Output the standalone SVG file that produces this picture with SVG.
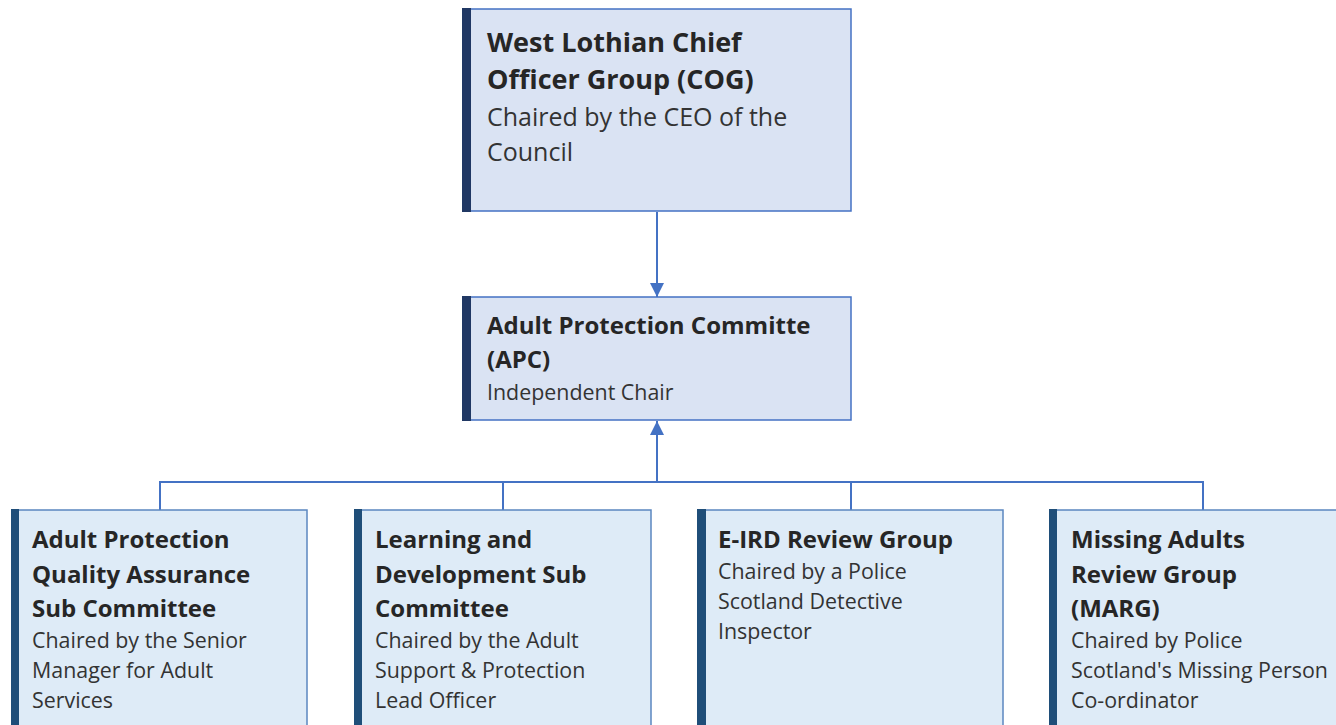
<svg xmlns="http://www.w3.org/2000/svg" width="1336" height="725" viewBox="0 0 1336 725">
<defs>
<marker id="ah" viewBox="0 0 14 14" refX="14" refY="7" markerWidth="14" markerHeight="14" markerUnits="userSpaceOnUse" orient="auto">
<path d="M0,0 L14,7 L0,14 Z" fill="#4472c4"/>
</marker>
<style>
.top{fill:#dae3f3;stroke:#4472c4;stroke-width:1.5}
.low{fill:#deebf7;stroke:#5b87c0;stroke-width:1.5}
.bart{fill:#203864}
.barl{fill:#1f4e79}
.t{font-family:"Open Sans","DejaVu Sans",sans-serif;font-weight:bold;font-size:24px;fill:#262626}
.tb{font-family:"Open Sans","DejaVu Sans",sans-serif;font-weight:bold;font-size:27px;fill:#262626}
.sb{font-family:"Open Sans","DejaVu Sans",sans-serif;font-size:25px;fill:#333333}
.s2{font-family:"Open Sans","DejaVu Sans",sans-serif;font-size:21.4px;fill:#333333}
.c{fill:none;stroke:#4472c4;stroke-width:2}
</style>
</defs>
<rect width="1336" height="725" fill="#ffffff"/>
<g id="connectors">
<line class="c" x1="657" y1="212" x2="657" y2="297" marker-end="url(#ah)"/>
<polyline class="c" points="160,510 160,482 1203,482 1203,510"/>
<line class="c" x1="503" y1="482" x2="503" y2="510"/>
<line class="c" x1="851" y1="482" x2="851" y2="510"/>
<line class="c" x1="657" y1="482" x2="657" y2="421" stroke-width="3" marker-end="url(#ah)"/>
</g>
<g id="cog">
<rect class="top" x="463" y="9" width="388" height="202"/>
<rect class="bart" x="462" y="8" width="9" height="204"/>
<text class="tb" x="487" y="52">West Lothian Chief</text>
<text class="tb" x="487" y="89">Officer Group (COG)</text>
<text class="sb" x="487" y="126">Chaired by the CEO of the</text>
<text class="sb" x="487" y="161">Council</text>
</g>
<g id="apc">
<rect class="top" x="463" y="297" width="388" height="123"/>
<rect class="bart" x="462" y="296" width="9" height="125"/>
<text class="t" x="487" y="334">Adult Protection Committe</text>
<text class="t" x="487" y="368">(APC)</text>
<text class="s2" x="487" y="400">Independent Chair</text>
</g>
<g id="qa">
<rect class="low" x="12" y="510" width="295" height="230"/>
<rect class="barl" x="11" y="509" width="8" height="230"/>
<text class="t" x="32" y="548">Adult Protection</text>
<text class="t" x="32" y="583">Quality Assurance</text>
<text class="t" x="32" y="617">Sub Committee</text>
<text class="s2" x="32" y="648">Chaired by the Senior</text>
<text class="s2" x="32" y="678">Manager for Adult</text>
<text class="s2" x="32" y="708">Services</text>
</g>
<g id="ld">
<rect class="low" x="355" y="510" width="296" height="230"/>
<rect class="barl" x="354" y="509" width="8" height="230"/>
<text class="t" x="375" y="548">Learning and</text>
<text class="t" x="375" y="583">Development Sub</text>
<text class="t" x="375" y="617">Committee</text>
<text class="s2" x="375" y="648">Chaired by the Adult</text>
<text class="s2" x="375" y="678">Support &amp; Protection</text>
<text class="s2" x="375" y="708">Lead Officer</text>
</g>
<g id="eird">
<rect class="low" x="698" y="510" width="305" height="230"/>
<rect class="barl" x="697" y="509" width="9" height="230"/>
<text class="t" x="718" y="548">E-IRD Review Group</text>
<text class="s2" x="718" y="579">Chaired by a Police</text>
<text class="s2" x="718" y="609">Scotland Detective</text>
<text class="s2" x="718" y="639">Inspector</text>
</g>
<g id="marg">
<rect class="low" x="1050" y="510" width="300" height="230"/>
<rect class="barl" x="1049" y="509" width="8" height="230"/>
<text class="t" x="1071" y="548">Missing Adults</text>
<text class="t" x="1071" y="583">Review Group</text>
<text class="t" x="1071" y="617">(MARG)</text>
<text class="s2" x="1071" y="648">Chaired by Police</text>
<text class="s2" x="1071" y="678">Scotland's Missing Person</text>
<text class="s2" x="1071" y="708">Co-ordinator</text>
</g>
</svg>
